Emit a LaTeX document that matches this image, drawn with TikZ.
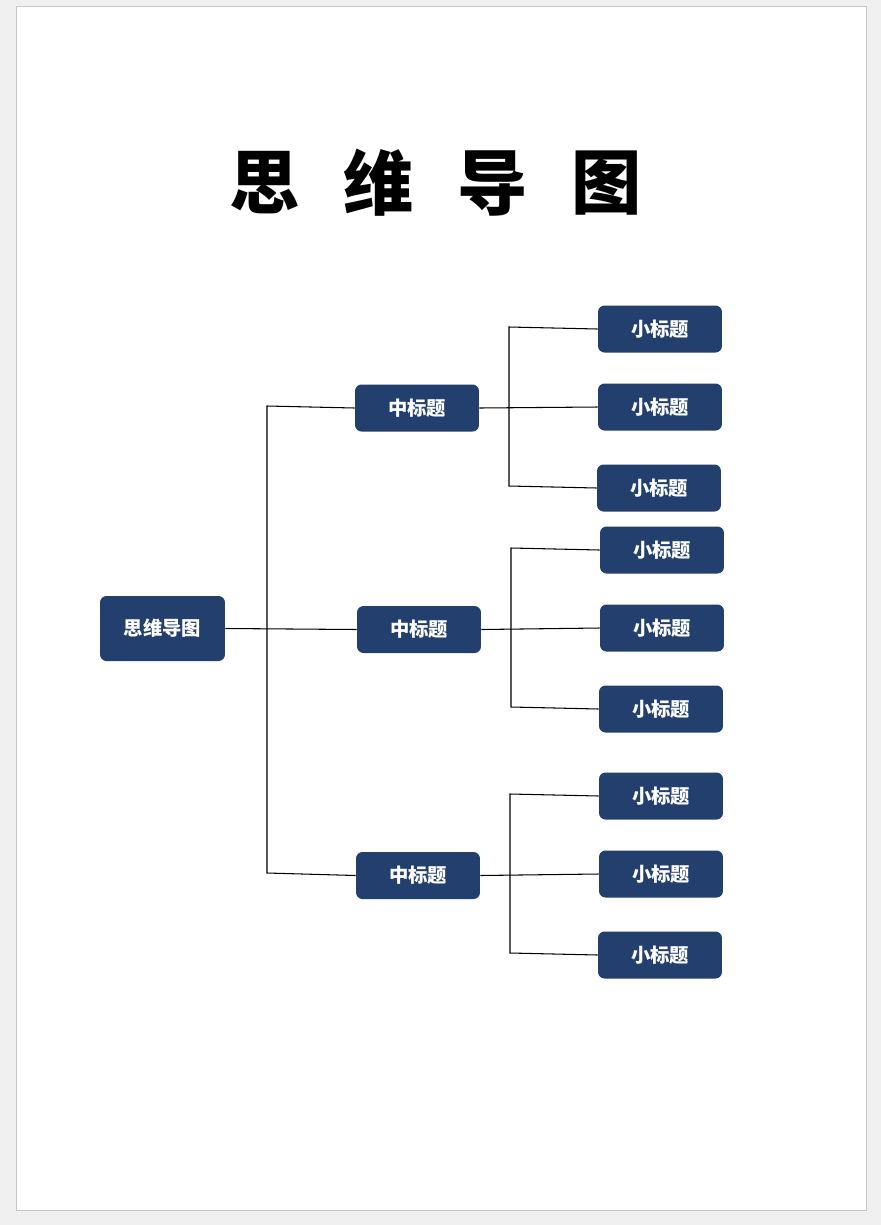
\documentclass[tikz,border=0pt]{standalone}
\usepackage{fontspec}
\newfontfamily\cjk{Noto Sans CJK SC}
\usetikzlibrary{positioning}
\definecolor{boxblue}{HTML}{223F6E}
\tikzset{
    box/.style={fill=boxblue, rounded corners=0.13cm, text=white,
        font=\cjk\bfseries\fontsize{11}{13}\selectfont,
        minimum width=2.48cm, minimum height=0.94cm, inner sep=0pt},
    link/.style={draw=black, line width=0.6pt},
}
\begin{document}
\begin{tikzpicture}[x=0.02cm,y=-0.02cm]
    % page
    \fill[gray!12] (0,0) rectangle (881,1225);
    \draw[gray!45, fill=white] (16,6) rectangle (866,1210);
    \useasboundingbox (0,0) rectangle (881,1225);

    % title
    \foreach \ch [count=\i] in {思,维,导,图}
        \node[font=\cjk\bfseries\fontsize{40}{44}\selectfont] at (151+114*\i,183) {\ch};

    % nodes
    \node[box, minimum width=2.5cm, minimum height=1.3cm] (root) at (162.5,628.5) {思维导图};
    \node[box] (m1) at (417,408) {中标题};
    \node[box] (m2) at (419,629.5) {中标题};
    \node[box] (m3) at (418,875.5) {中标题};

    \node[box] (s11) at (660,329) {小标题};
    \node[box] (s12) at (660,407) {小标题};
    \node[box] (s13) at (659,488) {小标题};
    \node[box] (s21) at (662,550) {小标题};
    \node[box] (s22) at (662,628) {小标题};
    \node[box] (s23) at (661,709) {小标题};
    \node[box] (s31) at (661,796) {小标题};
    \node[box] (s32) at (661,874) {小标题};
    \node[box] (s33) at (660,955) {小标题};

    % connectors
    \coordinate (t1) at (267,406);
    \coordinate (t2) at (267,628);
    \coordinate (t3) at (267,873);
    \draw[link] (root.east) -- (m2.west);
    \draw[link] (m1.west) -- (t1) -- (t3) -- (m3.west);

    \coordinate (b11) at (509,327);
    \coordinate (b13) at (509,486);
    \draw[link] (m1.east) -- (s12.west);
    \draw[link] (s11.west) -- (b11) -- (b13) -- (s13.west);

    \coordinate (b21) at (511,548);
    \coordinate (b23) at (511,707);
    \draw[link] (m2.east) -- (s22.west);
    \draw[link] (s21.west) -- (b21) -- (b23) -- (s23.west);

    \coordinate (b31) at (510,794);
    \coordinate (b33) at (510,953);
    \draw[link] (m3.east) -- (s32.west);
    \draw[link] (s31.west) -- (b31) -- (b33) -- (s33.west);
\end{tikzpicture}
\end{document}
